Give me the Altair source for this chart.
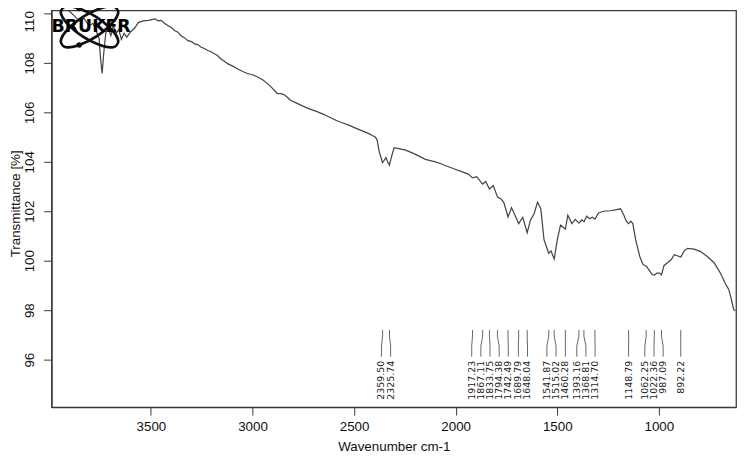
import altair as alt
import pandas as pd

# ---- spectrum ----
wn = [3989, 3975, 3960, 3940, 3921, 3902, 3877, 3853, 3829, 3804, 3785, 3770, 3755, 3748, 3740,
      3732, 3722, 3710, 3697, 3685, 3670, 3658, 3645, 3632, 3619, 3600, 3577, 3561, 3536, 3512,
      3480, 3465, 3449, 3430, 3415, 3398, 3382, 3367, 3352, 3335, 3318, 3300, 3285, 3270, 3254,
      3237, 3220, 3204, 3187, 3172, 3157, 3140, 3123, 3105, 3090, 3075, 3060, 3040, 3025, 3000,
      2977, 2950, 2928, 2905, 2879, 2862, 2847, 2830, 2815, 2780, 2749, 2720, 2685, 2650, 2620,
      2590, 2555, 2520, 2490, 2460, 2425, 2410, 2396, 2387, 2376, 2360, 2353, 2343, 2335, 2326,
      2316, 2303, 2280, 2246, 2197, 2149, 2120, 2100, 2075, 2052, 2025, 2003, 1970, 1938, 1917,
      1897, 1867, 1852, 1834, 1815, 1794, 1777, 1763, 1742, 1725, 1708, 1690, 1670, 1648, 1632,
      1614, 1597, 1581, 1565, 1542, 1531, 1515, 1500, 1484, 1460, 1448, 1428, 1411, 1393, 1380,
      1368, 1355, 1340, 1328, 1314, 1297, 1273, 1240, 1208, 1189, 1172, 1160, 1149, 1138, 1128,
      1114, 1094, 1078, 1062, 1046, 1033, 1022, 1010, 997, 987, 975, 956, 940, 924, 892,
      875, 859, 826, 794, 762, 729, 697, 673, 656, 643, 632, 624]
trans = [110.25, 110.3, 110.35, 110.3, 110.2, 110.1, 109.9, 109.7, 109.8, 109.5, 109.6, 109.3, 109.0, 108.2, 107.57,
         108.4, 109.2, 109.4, 109.1, 109.5, 109.2, 109.35, 108.95, 109.2, 109.04, 109.25, 109.44, 109.64, 109.7, 109.72,
         109.78, 109.7, 109.72, 109.58, 109.5, 109.42, 109.3, 109.24, 109.1, 109.02, 108.9, 108.86, 108.77, 108.74, 108.64,
         108.58, 108.5, 108.45, 108.37, 108.3, 108.17, 108.08, 107.97, 107.9, 107.84, 107.76, 107.7, 107.62, 107.57, 107.52,
         107.44, 107.32, 107.17, 107.0, 106.77, 106.76, 106.73, 106.62, 106.5, 106.36, 106.24, 106.14, 106.04, 105.92, 105.8,
         105.68, 105.57, 105.46, 105.35, 105.25, 105.13, 105.06, 105.0, 104.9, 104.4, 103.97, 104.05, 104.17, 104.0, 103.87,
         104.2, 104.57, 104.53, 104.47, 104.3, 104.1, 104.04, 104.0, 103.93, 103.85, 103.77, 103.7, 103.6, 103.5, 103.35,
         103.4, 103.1, 103.2, 102.9, 103.04, 102.57, 102.5, 102.35, 101.77, 102.15, 101.84, 101.5, 101.75, 101.13, 101.64,
         101.9, 102.37, 102.1, 100.84, 100.3, 100.4, 100.07, 100.84, 101.44, 101.28, 101.84, 101.5, 101.67, 101.52, 101.65,
         101.58, 101.8, 101.7, 101.76, 101.68, 101.93, 102.0, 102.02, 102.07, 102.1, 101.84, 101.6, 101.5, 101.6, 101.5,
         100.84, 100.17, 99.85, 99.78, 99.6, 99.44, 99.42, 99.5, 99.5, 99.43, 99.8, 99.93, 100.04, 100.24, 100.15,
         100.4, 100.5, 100.47, 100.37, 100.17, 99.93, 99.5, 99.08, 98.84, 98.44, 98.04, 97.97]

# ---- peak picks ----
peaks = [2359.50, 2325.74, 1917.23, 1867.11, 1833.75, 1794.38, 1742.49, 1689.79, 1648.04,
         1541.87, 1515.02, 1460.28, 1393.16, 1368.81, 1314.70, 1148.79, 1062.25, 1022.36,
         987.09, 892.22]

x_ticks = [1000, 1500, 2000, 2500, 3000, 3500]
y_ticks = [96, 98, 100, 102, 104, 106, 108, 110]
x_title = "Wavenumber cm-1"
y_title = "Transmittance [%]"
logo_text = "BRUKER"

# de-overlap label positions (minimum spacing in cm-1)
min_gap = 45.0
pos = list(peaks)
for _ in range(400):
    for i in range(1, len(pos)):
        gap = pos[i - 1] - pos[i]
        if gap < min_gap:
            d = (min_gap - gap) / 2
            pos[i - 1] += d
            pos[i] -= d

lead_rows = []
for k, (p, q) in enumerate(zip(peaks, pos)):
    for o, (xx, yy) in enumerate([(p, 97.2), (p, 96.95), (q, 96.55), (q, 96.12)]):
        lead_rows.append({"id": k, "o": o, "x": xx, "y": yy})
leads = pd.DataFrame(lead_rows)
labels = pd.DataFrame({"x": pos, "y": [95.95] * len(pos), "t": [f"{v:.2f}" for v in peaks]})

spec = pd.DataFrame({"w": wn, "t": trans})

xs = alt.Scale(domain=[3989, 620], nice=False, zero=False)
ys = alt.Scale(domain=[94.08, 110.12], nice=False, zero=False)
FONT = "Liberation Sans"
INK = "#3a3a3a"

xax = alt.Axis(values=x_ticks, format="d", title=x_title, tickSize=8, labelFontSize=13.5,
               labelPadding=5, labelColor="#111", tickColor=INK, domainColor=INK, domainWidth=1.3,
               grid=False, titleFontSize=13.5, titleFontWeight="normal", titleColor="#111",
               titleX=346, titleY=40, titleBaseline="middle", labelFont=FONT, titleFont=FONT)
yax = alt.Axis(values=y_ticks, format="d", title=y_title, tickSize=8, labelFontSize=13.5,
               labelAngle=270, labelAlign="center", labelBaseline="bottom", labelPadding=7,
               labelOffset={"condition": {"test": "datum.value >= 110", "value": 8},
                            "value": 0},
               labelColor="#111", tickColor=INK, domainColor=INK, domainWidth=1.3, grid=False,
               titleFontSize=13.5, titleFontWeight="normal", titleColor="#111", titleAngle=270,
               titleX=-36, titleY=195, titleAlign="center", titleBaseline="middle",
               labelFont=FONT, titleFont=FONT)

line = alt.Chart(spec).mark_line(color="#454545", strokeWidth=1.25, clip=True).encode(
    x=alt.X("w:Q", scale=xs, axis=xax),
    y=alt.Y("t:Q", scale=ys, axis=yax),
    order=alt.Order("w:Q", sort="descending"),
)

lead = alt.Chart(leads).mark_line(color="#555", strokeWidth=0.9).encode(
    x=alt.X("x:Q", scale=xs), y=alt.Y("y:Q", scale=ys),
    detail="id:N", order="o:Q",
)

txt = alt.Chart(labels).mark_text(angle=270, align="right", baseline="middle", fontSize=9.5,
                                   font="DejaVu Sans", color="#222").encode(
    x=alt.X("x:Q", scale=xs), y=alt.Y("y:Q", scale=ys), text="t:N",
)

# Bruker logo
ell_a = "M -0.84 -0.54 A 1 0.34 32.5 1 0 0.84 0.54 A 1 0.34 32.5 1 0 -0.84 -0.54 Z"
ell_b = "M -0.84 0.54 A 1 0.34 -32.5 1 0 0.84 -0.54 A 1 0.34 -32.5 1 0 -0.84 0.54 Z"
logo_c = pd.DataFrame({"x": [3802], "y": [109.46]})
orb1 = alt.Chart(logo_c).mark_point(shape=ell_a, size=4400, filled=False, stroke="#111",
                                    strokeWidth=2.6, opacity=1).encode(
    x=alt.X("x:Q", scale=xs), y=alt.Y("y:Q", scale=ys))
orb2 = alt.Chart(logo_c).mark_point(shape=ell_b, size=4400, filled=False, stroke="#111",
                                    strokeWidth=2.6, opacity=1).encode(
    x=alt.X("x:Q", scale=xs), y=alt.Y("y:Q", scale=ys))
dots = alt.Chart(pd.DataFrame({"x": [3853, 3853], "y": [110.2, 108.72]})).mark_point(
    shape="circle", size=32, filled=True, color="#111", opacity=1).encode(
    x=alt.X("x:Q", scale=xs), y=alt.Y("y:Q", scale=ys))
logo = alt.Chart(pd.DataFrame({"x": [3794], "y": [109.46], "t": [logo_text]})).mark_text(
    font="DejaVu Sans", fontWeight="bold", fontSize=17.5, color="#000", baseline="middle",
    align="center").encode(
    x=alt.X("x:Q", scale=xs), y=alt.Y("y:Q", scale=ys), text="t:N")

chart = alt.layer(line, lead, txt, orb1, orb2, dots, logo).properties(
    width=692, height=401,
    autosize=alt.AutoSizeParams(type="none"),
    padding={"left": 44, "top": 0, "right": 6, "bottom": 52},
    background="white",
).configure_view(stroke=INK, strokeWidth=1.3)

chart.save("out.html", embed_options={"renderer": "svg", "actions": False})
